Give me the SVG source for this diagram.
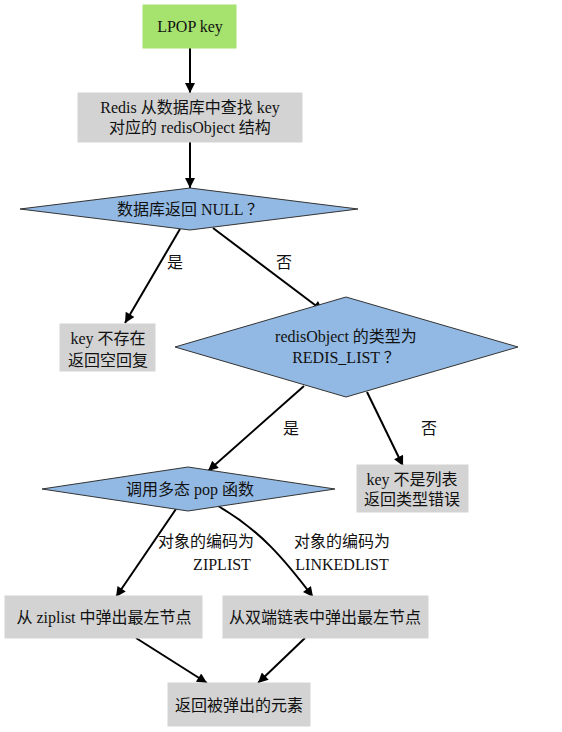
<svg xmlns="http://www.w3.org/2000/svg" width="562" height="732" viewBox="0 0 562 732">
<defs>
<style>
text{font-family:"Liberation Serif","Noto Sans CJK SC",serif;font-size:16px;fill:#111;text-anchor:middle;dominant-baseline:central}
.box{fill:#d3d3d3;stroke:#d3d3d3}
.start{fill:#a6e26e;stroke:#a6e26e}
.dia{fill:#92b9e3;stroke:#333;stroke-width:1}
.edge{fill:none;stroke:#000;stroke-width:2;marker-end:url(#ah)}
</style>
<marker id="ah" viewBox="0 0 10 10" refX="10" refY="5" markerWidth="6" markerHeight="5" orient="auto" markerUnits="strokeWidth">
<path d="M0,0 L10,5 L0,10 z" fill="#000"/>
</marker>
</defs>
<rect width="562" height="732" fill="#fff"/>
<g id="connectors">
<path class="edge" d="M190,48 L190,93"/>
<path class="edge" d="M190,142 L190,188"/>
<path class="edge" d="M180,229 L125,323"/>
<text x="175" y="262">是</text>
<path class="edge" d="M213,228 L323,311"/>
<text x="284" y="262">否</text>
<path class="edge" d="M304,386 L208,471"/>
<text x="291" y="428">是</text>
<path class="edge" d="M367,392 L403,466"/>
<text x="429" y="428">否</text>
<path class="edge" d="M176,509 L116,597"/>
<text x="206" y="541">对象的编码为</text>
<text x="222" y="564">ZIPLIST</text>
<path class="edge" d="M218,506 C260,530 285,560 313,597"/>
<text x="342" y="541">对象的编码为</text>
<text x="342" y="564">LINKEDLIST</text>
<path class="edge" d="M136,638 L207,683"/>
<path class="edge" d="M305,638 L258,683"/>
</g>
<g id="n-lpop"><rect class="start" x="143" y="5" width="93" height="43"/><text x="190" y="26">LPOP key</text></g>
<g id="n-lookup"><rect class="box" x="78" y="93" width="224" height="49"/><text x="190" y="107">Redis 从数据库中查找 key</text><text x="190" y="127">对应的 redisObject 结构</text></g>
<g id="n-null"><polygon class="dia" points="190,188 358,209 190,230 20,209"/><text x="190" y="209">数据库返回 NULL ？</text></g>
<g id="n-notexist"><rect class="box" x="60" y="324" width="95" height="47"/><text x="108" y="338">key 不存在</text><text x="108" y="360">返回空回复</text></g>
<g id="n-type"><polygon class="dia" points="346,297 518,347 346,397 175,347"/><text x="346" y="336">redisObject 的类型为</text><text x="346" y="357">REDIS_LIST ？</text></g>
<g id="n-typeerr"><rect class="box" x="357" y="465" width="111" height="47"/><text x="412" y="479">key 不是列表</text><text x="412" y="499">返回类型错误</text></g>
<g id="n-pop"><polygon class="dia" points="188,467 335,489 188,511 42,489"/><text x="190" y="489">调用多态 pop 函数</text></g>
<g id="n-ziplist"><rect class="box" x="5" y="596" width="197" height="42"/><text x="104" y="617">从 ziplist 中弹出最左节点</text></g>
<g id="n-linked"><rect class="box" x="223" y="596" width="205" height="42"/><text x="325" y="617">从双端链表中弹出最左节点</text></g>
<g id="n-return"><rect class="box" x="168" y="683" width="142" height="43"/><text x="239" y="705">返回被弹出的元素</text></g>
</svg>
